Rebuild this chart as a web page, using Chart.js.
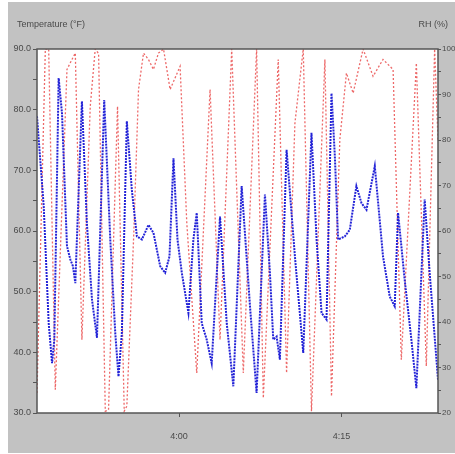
<!DOCTYPE html>
<html>
<head>
<meta charset="utf-8">
<script src="https://cdn.jsdelivr.net/npm/chart.js@4/dist/chart.umd.min.js"></script>
<style>
  html, body { margin: 0; padding: 0; background: #fff; }
  #wrap { width: 455px; height: 454px; }
</style>
</head>
<body>
<div id="wrap"><canvas id="myChart" width="455" height="454"></canvas></div>
<script>
// minutes relative to 4:00
var timeTicks = [0, 15];
var timeLabels = ['4:00', '4:15'];

// temperature (F), blue
var tempTime = [-13.13, -12.51, -12.05, -11.74, -11.53, -11.13, -10.82, -10.36, -10.05, -9.81, -9.59,
  -8.98, -8.52, -8.05, -7.59, -6.92, -6.36, -5.90, -5.60, -5.29, -4.83, -4.37, -3.90, -3.44, -2.83,
  -2.37, -1.75, -1.29, -0.89, -0.52, -0.15, 0.25, 0.86, 1.32, 1.63, 2.09, 2.55, 3.01, 3.78, 4.40,
  5.01, 5.78, 6.55, 7.16, 7.93, 8.39, 8.70, 9.01, 9.31, 9.93, 10.70, 11.47, 12.23, 12.70, 13.16,
  13.62, 14.08, 14.39, 14.69, 15.31, 15.77, 16.38, 16.85, 17.31, 18.08, 18.84, 19.46, 19.92, 20.23,
  20.84, 21.46, 21.92, 22.69, 23.15, 23.92];
var tempValues = [78.9, 64.1, 44.8, 38.2, 42.1, 85.2, 79.4, 57.5, 55.3, 54.2, 51.4,
  81.4, 61.3, 48.7, 42.4, 81.6, 58.6, 43.2, 36.0, 43.2, 78.1, 66.8, 59.1, 58.6, 61.0,
  59.7, 54.2, 53.1, 55.8, 72.0, 58.6, 53.1, 46.5, 58.6, 63.0, 44.8, 42.1, 38.2, 62.4, 44.8,
  34.4, 67.4, 47.6, 33.3, 66.0, 53.1, 42.1, 42.6, 38.8, 73.4, 55.8, 39.9, 76.2, 58.6, 46.5,
  45.4, 82.7, 72.3, 58.6, 59.1, 60.2, 67.4, 64.6, 63.5, 70.7, 55.8, 49.2, 47.6, 63.0,
  52.0, 42.1, 34.1, 65.2, 53.1, 35.5];

// relative humidity (%), red
var rhTime = [-13.13, -12.36, -12.05, -11.44, -10.36, -9.90, -9.59, -8.98, -8.21, -7.75, -7.44,
  -6.82, -6.52, -5.69, -5.07, -4.83, -4.21, -3.75, -3.29, -2.83, -2.37, -1.91, -1.44, -0.83, 0.09,
  0.71, 1.63, 2.86, 3.78, 4.86, 5.93, 7.16, 7.78, 9.16, 9.93, 10.70, 11.47, 12.23, 13.47, 14.08,
  14.85, 15.46, 16.08, 17.00, 17.92, 18.84, 19.77, 20.53, 21.92, 22.84, 23.61, 23.92];
var rhValues = [24.4, 100, 100, 25.1, 95.5, 97.7, 99.1, 36.1, 87.4, 100, 99.0,
  20.4, 20.7, 87.4, 20.4, 21.5, 58.1, 91.1, 99.1, 97.7, 95.5, 99.1, 100, 91.1, 96.2,
  61.8, 28.8, 91.1, 36.1, 100, 28.8, 100, 23.3, 97.7, 28.8, 83.7, 100, 20.4, 97.7, 23.7,
  80.1, 94.7, 90.3, 100, 94.0, 97.7, 95.5, 31.7, 96.9, 30.3, 100, 80.0];

function pts(xs, ys) {
  var out = [];
  for (var i = 0; i < xs.length; i++) out.push({x: xs[i], y: ys[i]});
  return out;
}

var frame = {
  id: 'frame',
  beforeDraw: function(chart) {
    var ctx = chart.ctx, a = chart.chartArea;
    ctx.save();
    ctx.fillStyle = '#ffffff';
    ctx.fillRect(0, 0, chart.width, chart.height);
    ctx.fillStyle = '#c2c2c2';
    ctx.fillRect(8, 2, chart.width - 8, chart.height - 3);
    ctx.fillStyle = '#ffffff';
    ctx.fillRect(a.left, a.top, a.right - a.left, a.bottom - a.top);
    ctx.restore();
  },
  afterDraw: function(chart) {
    var ctx = chart.ctx, a = chart.chartArea;
    ctx.save();
    ctx.strokeStyle = '#555';
    ctx.lineWidth = 1.5;
    ctx.strokeRect(a.left, a.top, a.right - a.left, a.bottom - a.top);
    ctx.fillStyle = '#4a4a4a';
    ctx.font = '9px "Liberation Sans", Arial, sans-serif';
    ctx.textBaseline = 'alphabetic';
    ctx.textAlign = 'left';
    ctx.fillText('Temperature (°F)', 17, 27);
    ctx.textAlign = 'right';
    ctx.fillText('RH (%)', 448, 27);
    ctx.restore();
  }
};

var tickFont = { family: '"Liberation Sans", Arial, sans-serif', size: 9 };

var ctx = document.getElementById('myChart').getContext('2d');
var chart = new Chart(ctx, {
  type: 'line',
  data: {
    datasets: [{
      label: 'Temperature',
      data: pts(tempTime, tempValues),
      yAxisID: 'yT',
      borderColor: 'rgb(35,35,215)',
      borderWidth: 2,
      borderDash: [2, 1],
      pointRadius: 0,
      tension: 0
    }, {
      label: 'RH',
      data: pts(rhTime, rhValues),
      yAxisID: 'yRH',
      borderColor: 'rgba(230,40,40,0.7)',
      borderWidth: 1.3,
      borderDash: [2, 2],
      pointRadius: 0,
      tension: 0
    }]
  },
  options: {
    responsive: false,
    animation: false,
    layout: { padding: { top: 49, left: 0, right: 0, bottom: 0 } },
    plugins: { legend: { display: false }, tooltip: { enabled: false } },
    scales: {
      x: {
        type: 'linear',
        min: -13.13,
        max: 23.92,
        afterBuildTicks: function(s) { s.ticks = timeTicks.map(function(v){ return {value: v}; }); },
        afterFit: function(s) { s.height = 41; },
        ticks: {
          color: '#4a4a4a', font: tickFont, padding: 14, maxRotation: 0,
          callback: function(v) { var i = timeTicks.indexOf(v); return i >= 0 ? timeLabels[i] : ''; }
        },
        grid: { drawOnChartArea: false, tickLength: 4, tickColor: '#555' },
        border: { display: false }
      },
      yT: {
        position: 'left',
        min: 30, max: 90,
        afterFit: function(s) { s.width = 37; },
        ticks: {
          stepSize: 5, color: '#4a4a4a', font: tickFont, padding: 2,
          callback: function(v) { return v % 10 === 0 ? v.toFixed(1) : ''; }
        },
        grid: { drawOnChartArea: false, tickLength: 4, tickColor: '#555' },
        border: { display: false }
      },
      yRH: {
        position: 'right',
        min: 20, max: 100,
        afterFit: function(s) { s.width = 17; },
        ticks: {
          stepSize: 5, color: '#4a4a4a', font: { family: tickFont.family, size: 8 }, padding: 1,
          callback: function(v) { return v % 10 === 0 ? String(v) : ''; }
        },
        grid: { drawOnChartArea: false, tickLength: 3, tickColor: '#555' },
        border: { display: false }
      }
    }
  },
  plugins: [frame]
});
</script>
</body>
</html>
